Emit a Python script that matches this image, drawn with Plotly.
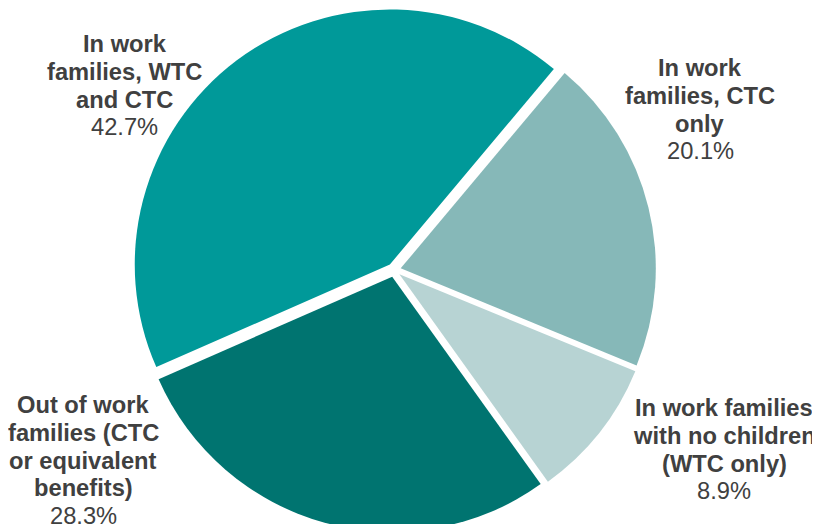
import plotly.graph_objects as go

# slices in clockwise order, starting at about 40 deg past 12 o'clock
labels = ["In work families, CTC only",
          "In work families with no children (WTC only)",
          "Out of work families (CTC or equivalent benefits)",
          "In work families, WTC and CTC"]
values = [20.1, 8.9, 28.3, 42.7]
colors = ["#86B8B8", "#B7D3D3", "#007470", "#009999"]

# how the label text is broken over lines
label_lines = [
    ["In work", "families, CTC", "only"],
    ["In work families", "with no children", "(WTC only)"],
    ["Out of work", "families (CTC", "or equivalent", "benefits)"],
    ["In work", "families, WTC", "and CTC"],
]

# page body has an 8px margin, so the figure is drawn 8px in from the corner;
# it is made a bit taller than the window so the pie runs off the bottom edge
W, H = 812, 540
# centre of first text line for each label (figure pixels from top-left)
label_pos = [(692, 60), (716, 400), (75, 397), (117, 36)]
line_gap = 27.8

# pie centre and half-size of its domain in figure pixels
cx, cy, half = 386, 262, 262

fig = go.Figure()
fig.add_trace(go.Pie(
    labels=labels,
    values=values,
    sort=False,
    direction="clockwise",
    rotation=40,
    pull=[0.027] * len(values),
    marker=dict(colors=colors, line=dict(width=0)),
    textinfo="none",
    hoverinfo="label+percent",
    showlegend=False,
    domain=dict(x=[(cx - half) / W, (cx + half) / W],
                y=[1 - (cy + half) / H, 1 - (cy - half) / H]),
))

annotations = []
for lines, v, (px, py) in zip(label_lines, values, label_pos):
    texts = ["<b>%s</b>" % t for t in lines] + ["%.1f%%" % v]
    for i, t in enumerate(texts):
        annotations.append(dict(
            x=px / W, y=1 - (py + i * line_gap) / H,
            xref="paper", yref="paper",
            text=t, showarrow=False,
            xanchor="center", yanchor="middle",
            font=dict(family="Liberation Sans, Arial, sans-serif", size=23.7, color="#404040"),
        ))

fig.update_layout(
    width=W, height=H,
    margin=dict(l=0, r=0, t=0, b=0),
    paper_bgcolor="white",
    plot_bgcolor="white",
    annotations=annotations,
)

fig.write_html("out.html")
